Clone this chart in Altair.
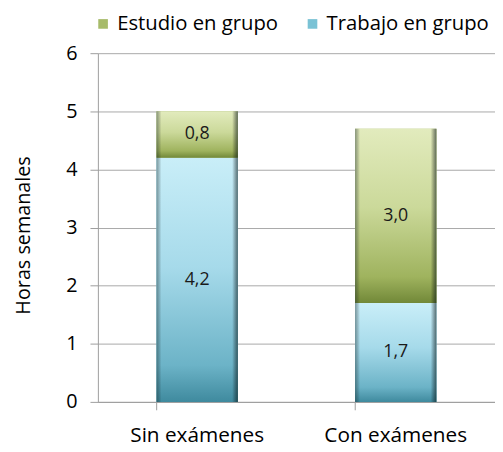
import altair as alt
import pandas as pd

categories = ["Sin exámenes", "Con exámenes"]
series = ["Trabajo en grupo", "Estudio en grupo"]
trabajo = [4.2, 1.7]
estudio = [0.8, 3.0]
y_ticks = [0, 1, 2, 3, 4, 5, 6]

rows = []
for i, c in enumerate(categories):
    for k, (s, vals) in enumerate(zip(series, [trabajo, estudio])):
        v = vals[i]
        rows.append({"cat": c, "serie": s, "value": v, "ord": k,
                     "label": f"{v:.1f}".replace(".", ",")})
df = pd.DataFrame(rows)

FONT = "Open Sans"
AXIS_GRAY = "#9c9c9c"

base = alt.Chart(df).transform_stack(
    stack="value", groupby=["cat"], as_=["y0", "y1"],
    sort=[alt.SortField("ord", order="ascending")]
).transform_calculate(mid="(datum.y0 + datum.y1) / 2")

x_enc = alt.X("cat:N", sort=categories,
              scale=alt.Scale(paddingInner=0.59, paddingOuter=0.295),
              axis=alt.Axis(title=None, labelAngle=0, bandPosition=0,
                            tickSize=8, labelPadding=15, labelFontSize=21,
                            domainColor=AXIS_GRAY, tickColor=AXIS_GRAY,
                            labelColor="#000000"))
y_enc = alt.Y("y0:Q", scale=alt.Scale(domain=[0, 6], nice=False),
              axis=alt.Axis(values=y_ticks, format="d", title="Horas semanales",
                            grid=True, gridColor="#a8a8a8", tickSize=8,
                            labelPadding=13, labelFontSize=20,
                            labelColor="#000000", titleFontSize=20,
                            titleFontWeight="normal", titleColor="#000000",
                            titleX=-75, titleY=184, titleBaseline="middle",
                            domainColor=AXIS_GRAY, tickColor=AXIS_GRAY))
y2_enc = alt.Y2("y1:Q")

legend_layer = base.mark_bar().encode(
    x=x_enc, y=y_enc, y2=y2_enc,
    color=alt.Color("serie:N",
                    scale=alt.Scale(domain=["Estudio en grupo", "Trabajo en grupo"],
                                    range=["#a7bb6a", "#7ac2d5"]),
                    legend=alt.Legend(title=None, orient="none", legendX=-5,
                                      legendY=-40, direction="horizontal",
                                      symbolType="square", symbolSize=95,
                                      labelFontSize=20.5, labelOffset=4,
                                      columnPadding=24, padding=0,
                                      labelLimit=0,
                                      labelColor="#000000", labelFont=FONT,
                                      symbolStrokeWidth=0)),
)

blue_grad = alt.LinearGradient(
    gradient="linear", x1=0, x2=0, y1=0, y2=1,
    stops=[alt.GradientStop(offset=0, color="#c9eef8"),
           alt.GradientStop(offset=0.45, color="#a6daea"),
           alt.GradientStop(offset=0.85, color="#6cb3c7"),
           alt.GradientStop(offset=1, color="#3f8a9e")])
green_grad = alt.LinearGradient(
    gradient="linear", x1=0, x2=0, y1=0, y2=1,
    stops=[alt.GradientStop(offset=0, color="#e2ebbd"),
           alt.GradientStop(offset=0.45, color="#cbd99a"),
           alt.GradientStop(offset=0.85, color="#9fb35e"),
           alt.GradientStop(offset=1, color="#718838")])
bevel_h = alt.LinearGradient(
    gradient="linear", x1=0, x2=1, y1=0, y2=0,
    stops=[alt.GradientStop(offset=0, color="rgba(30,50,50,0.45)"),
           alt.GradientStop(offset=0.06, color="rgba(0,0,0,0)"),
           alt.GradientStop(offset=0.93, color="rgba(0,0,0,0)"),
           alt.GradientStop(offset=1, color="rgba(10,25,25,0.6)")])

blue_layer = base.transform_filter(alt.datum.serie == "Trabajo en grupo").mark_bar(
    color=blue_grad).encode(x=x_enc, y=y_enc, y2=y2_enc)
green_layer = base.transform_filter(alt.datum.serie == "Estudio en grupo").mark_bar(
    color=green_grad).encode(x=x_enc, y=y_enc, y2=y2_enc)
bevel_layer = base.mark_bar(color=bevel_h).encode(x=x_enc, y=y_enc, y2=y2_enc)

text_layer = base.mark_text(font=FONT, fontSize=18, color="#1a1a1a").encode(
    x=x_enc, y=alt.Y("mid:Q"), text="label:N")

chart = alt.layer(legend_layer, blue_layer, green_layer, bevel_layer, text_layer).properties(
    width=402, height=353,
    autosize=alt.AutoSizeParams(type="none"),
    padding={"left": 91, "top": 43, "right": 0, "bottom": 50},
).configure_view(stroke=None).configure_axis(labelFont=FONT, titleFont=FONT)

chart.save("out.html", embed_options={"renderer": "svg", "actions": False})
